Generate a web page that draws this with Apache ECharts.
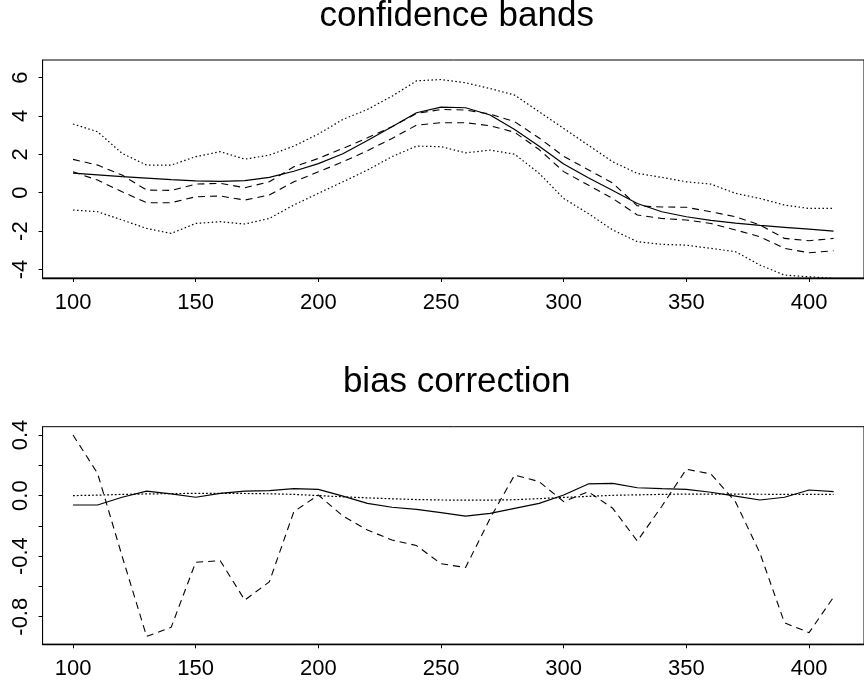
<!DOCTYPE html>
<html><head><meta charset="utf-8">
<script src="https://cdn.jsdelivr.net/npm/echarts@6/dist/echarts.min.js"></script>
<style>html,body{margin:0;padding:0;background:#fff}#c{width:864px;height:686px}</style>
</head><body><div id="c"></div>
<script>
// ---- data ----
const xValues = [100,110,120,130,140,150,160,170,180,190,200,210,220,230,240,250,260,270,280,290,300,310,320,330,340,350,360,370,380,390,400,410];

// top panel: confidence bands
const fitLine   = [1.02,0.93,0.84,0.76,0.68,0.62,0.59,0.63,0.80,1.12,1.52,2.03,2.72,3.44,4.17,4.46,4.43,4.05,3.30,2.42,1.50,0.78,0.12,-0.56,-0.99,-1.25,-1.44,-1.58,-1.70,-1.80,-1.90,-2.00];
const innerUpper = [1.74,1.44,0.92,0.14,0.12,0.45,0.49,0.26,0.57,1.35,1.79,2.31,2.86,3.44,4.13,4.34,4.31,4.10,3.70,2.85,1.90,1.20,0.50,-0.68,-0.74,-0.76,-0.99,-1.25,-1.68,-2.38,-2.50,-2.38];
const innerLower = [1.09,0.66,0.05,-0.52,-0.52,-0.21,-0.17,-0.38,-0.12,0.57,1.09,1.61,2.19,2.83,3.52,3.65,3.65,3.49,3.15,2.25,1.10,0.40,-0.30,-1.16,-1.34,-1.42,-1.60,-1.94,-2.29,-2.90,-3.13,-3.02];
const outerUpper = [3.58,3.18,2.05,1.44,1.44,1.88,2.14,1.75,1.96,2.43,3.06,3.82,4.34,5.03,5.83,5.90,5.73,5.43,5.09,4.22,3.35,2.48,1.61,1.01,0.80,0.57,0.45,-0.03,-0.30,-0.64,-0.82,-0.82];
const outerLower = [-0.90,-0.99,-1.42,-1.86,-2.12,-1.60,-1.51,-1.63,-1.34,-0.64,-0.03,0.57,1.18,1.88,2.43,2.40,2.08,2.22,2.01,1.01,-0.30,-1.08,-1.94,-2.55,-2.69,-2.73,-2.90,-3.07,-3.77,-4.29,-4.38,-4.46];

// bottom panel: bias correction
const biasSolid  = [-0.062,-0.062,-0.011,0.030,0.011,-0.011,0.015,0.030,0.033,0.046,0.041,-0.003,-0.051,-0.077,-0.091,-0.113,-0.135,-0.117,-0.084,-0.051,0.004,0.077,0.081,0.052,0.046,0.041,0.022,-0.003,-0.029,-0.011,0.037,0.026];
const biasDotted = [0.000,0.003,0.008,0.011,0.013,0.015,0.015,0.014,0.012,0.008,0.000,-0.008,-0.015,-0.021,-0.026,-0.029,-0.030,-0.030,-0.027,-0.020,-0.012,-0.005,0.002,0.005,0.008,0.010,0.010,0.010,0.009,0.008,0.008,0.008];
const biasDashed = [0.40,0.147,-0.40,-0.93,-0.87,-0.44,-0.43,-0.69,-0.57,-0.106,0.004,-0.135,-0.227,-0.293,-0.33,-0.45,-0.475,-0.15,0.136,0.092,-0.04,0.026,-0.084,-0.30,-0.07,0.174,0.143,-0.04,-0.38,-0.84,-0.905,-0.67];

// ticks / labels
const xTicks = [100,150,200,250,300,350,400];
const topYTicks = [-4,-2,0,2,4,6];
const bottomYTicks = [-0.8,-0.6,-0.4,-0.2,0,0.2,0.4];
const bottomYLabels = [-0.8,-0.4,0,0.4];
const titles = ['confidence bands','bias correction'];

// ---- chart ----
const FONT = '"Liberation Sans", Arial, Helvetica, sans-serif';
const pairs = arr => xValues.map((x,i)=>[x, arr[i]]);

function xAxisCfg(gi){
  return {
    type:'value', gridIndex:gi, min:87.6, max:422.4,
    splitLine:{show:false},
    axisLine:{show:true, onZero:false, lineStyle:{color:'#000', width:1.4}},
    axisTick:{show:true, inside:false, length:4, customValues:xTicks, lineStyle:{color:'#000', width:1}},
    axisLabel:{show:true, customValues:xTicks, margin:14, color:'#000', fontSize:22, fontFamily:FONT}
  };
}
function yAxisCfg(gi, min, max, ticks, labels, fmt){
  return {
    type:'value', gridIndex:gi, min:min, max:max,
    splitLine:{show:false},
    axisLine:{show:true, onZero:false, lineStyle:{color:'#000', width:1}},
    axisTick:{show:true, inside:false, length:4, customValues:ticks, lineStyle:{color:'#000', width:1}},
    axisLabel:{show:true, customValues:labels, rotate:90, margin:11, color:'#000', fontSize:22, fontFamily:FONT, formatter:fmt}
  };
}
function line(arr, xi, type, width){
  return {
    type:'line', xAxisIndex:xi, yAxisIndex:xi, data:pairs(arr),
    showSymbol:false, symbol:'none', silent:true, animation:false,
    lineStyle:{color:'#000', width:width||1, type:type}
  };
}

const chart = echarts.init(document.getElementById('c'), null, {renderer:'canvas'});
chart.setOption({
  animation:false,
  backgroundColor:'#fff',
  title:[
    {text:titles[0], left:456.7, top:-1.5, textAlign:'center', padding:0,
     textStyle:{fontSize:35, fontWeight:'normal', color:'#000', fontFamily:FONT}},
    {text:titles[1], left:456.7, top:365.2, textAlign:'center', padding:0,
     textStyle:{fontSize:35, fontWeight:'normal', color:'#000', fontFamily:FONT}}
  ],
  grid:[
    {left:42.6, top:60, width:828.3, height:218, show:true, borderColor:'#000', borderWidth:1, backgroundColor:'transparent'},
    {left:42.6, top:426.7, width:828.3, height:217.6, show:true, borderColor:'#000', borderWidth:1, backgroundColor:'transparent'}
  ],
  xAxis:[xAxisCfg(0), xAxisCfg(1)],
  yAxis:[
    yAxisCfg(0, -4.443, 6.917, topYTicks, topYTicks, v=>String(Math.round(v))),
    yAxisCfg(1, -0.982, 0.455, bottomYTicks, bottomYLabels, v=>(Math.abs(v)<1e-9?0:v).toFixed(1))
  ],
  series:[
    line(outerUpper,0,[1.5,2.5],1.2),
    line(outerLower,0,[1.5,2.5],1.2),
    line(innerUpper,0,[7,5],1.1),
    line(innerLower,0,[7,5],1.1),
    line(fitLine,0,'solid',1.2),
    line(biasDotted,1,[1.8,2],1.2),
    line(biasDashed,1,[7,5],1.1),
    line(biasSolid,1,'solid',1.2)
  ]
});
</script></body></html>
